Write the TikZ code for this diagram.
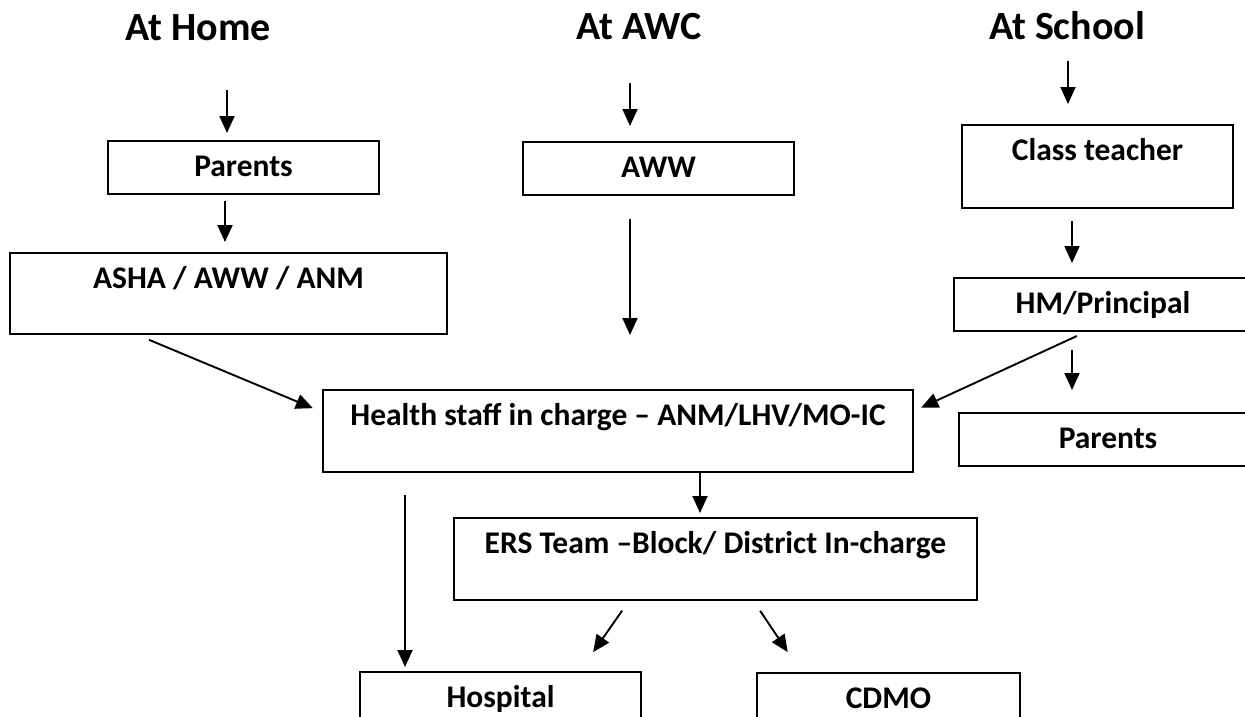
\documentclass[tikz,border=0pt]{standalone}
\usepackage{fontspec}
\setmainfont{Carlito}
\usetikzlibrary{arrows.meta,calc}

\begin{document}
\begin{tikzpicture}[x=1pt,y=-1pt]

\tikzstyle{heading} = [anchor=base, inner sep=0,
    font=\bfseries\fontsize{40}{48}\selectfont]
\tikzstyle{frame} = [draw=black, line width=1.8pt, anchor=north,
    inner ysep=0, text height=36pt,
    font=\bfseries\fontsize{31.5}{38}\selectfont]
\tikzstyle{arr} = [line width=1.9pt, -{Triangle[length=17pt,width=15pt]}]

\useasboundingbox (0,0) rectangle (1245,716);
\clip (0,0) rectangle (1245,716);

% =========================
% three places - headings
% =========================
\node[heading] (home) at (198,40) {At Home};
\node[heading] (awc) at (639,39) {At AWC};
\node[heading] (school) at (1067,39) {At School};

\coordinate (homein) at (227,90);
\coordinate (awcin) at (630,83);
\coordinate (schoolin) at (1068,61);

% =========================
% first contacts
% =========================
\node[frame, minimum width=271pt, text depth=17pt] (parents1) at (243.5,140) {Parents};
\node[frame, minimum width=437pt, text depth=45pt] (asha) at (228.5,252) {ASHA / AWW / ANM};

\node[frame, minimum width=271pt, text depth=17pt] (aww) at (658.5,141) {AWW};

\node[frame, minimum width=271pt, text depth=47pt] (teacher) at (1097.5,124) {Class teacher};
\node[frame, minimum width=298pt, text depth=17pt] (hm) at (1103,277) {HM/Principal};
\node[frame, minimum width=298pt, text depth=17pt] (parents2) at (1108,412) {Parents};

% =========================
% health side
% =========================
\node[frame, minimum width=590pt, text depth=46pt] (health) at (618,389) {Health staff in charge – ANM/LHV/MO-IC};
\node[frame, minimum width=523pt, text depth=46pt] (ers) at (715.5,517) {ERS Team –Block/ District In-charge};

\node[frame, minimum width=281pt, text depth=46pt] (hospital) at (500.5,671) {Hospital};
\node[frame, minimum width=263pt, text depth=46pt] (cdmo) at (888.5,672) {CDMO};

% =========================
% Down arrows
% =========================
\draw[arr, shorten >=7pt] (homein) -- (homein |- parents1.north);
\draw[arr, shorten <=6pt, shorten >=10pt] (parents1.south -| 225,0) -- (asha.north -| 225,0);
\draw[arr, shorten <=13pt, shorten >=10pt] (asha.south -| 137,0) -- (health.west |- 0,412);

\draw[arr, shorten >=15pt] (awcin) -- (awcin |- aww.north);
\draw[arr, shorten <=23pt, shorten >=54pt] (aww.south -| awcin) -- (health.north -| awcin);

\draw[arr, shorten >=20pt] (schoolin) -- (schoolin |- teacher.north);
\draw[arr, shorten <=12pt, shorten >=14pt] (teacher.south -| 1072,0) -- (hm.north -| 1072,0);
\draw[arr, shorten <=10pt, shorten >=8pt] (hm.south -| 1086,0) -- (health.east |- 0,411);
\draw[arr, shorten <=18pt, shorten >=22pt] (hm.south -| 1072,0) -- (parents2.north -| 1072,0);

\draw[arr, shorten >=4pt] (health.south -| 700,0) -- (ers.north -| 700,0);
\draw[arr, shorten <=22pt, shorten >=4pt] (health.south -| 405,0) -- (hospital.north -| 405,0);
\draw[arr, shorten <=12pt, shorten >=23pt] (ers.south -| 629,0) -- (hospital.north -| 580,0);
\draw[arr, shorten <=12pt, shorten >=24pt] (ers.south -| 753.5,0) -- (cdmo.north -| 801,0);

\end{tikzpicture}
\end{document}
